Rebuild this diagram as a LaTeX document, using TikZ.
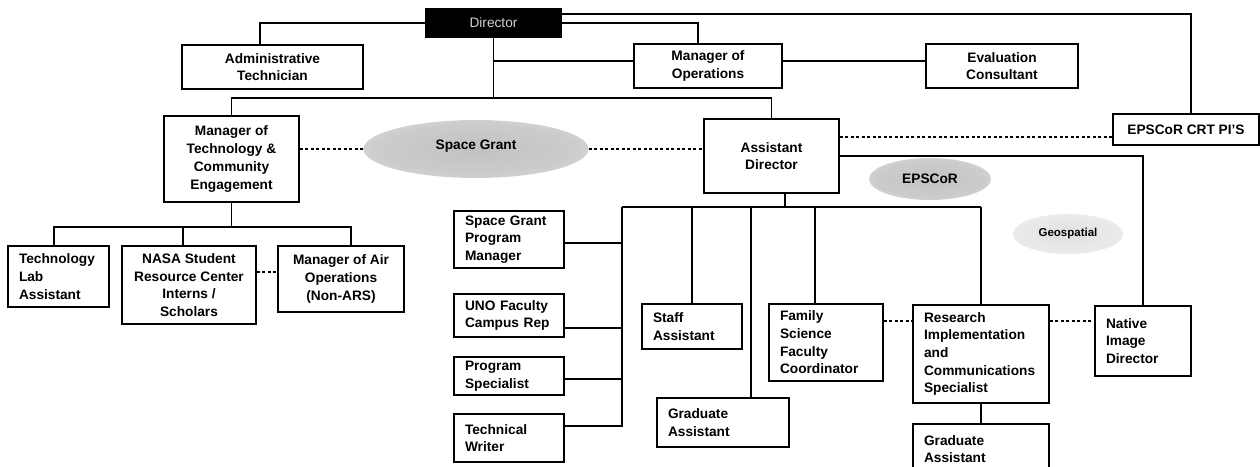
\documentclass[tikz,border=0pt]{standalone}
\usepackage{fontspec}
\setmainfont{Liberation Sans}
\usetikzlibrary{shapes.geometric}
\pgfdeclareradialshading{cloudfade}{\pgfpoint{0bp}{0bp}}{color(0bp)=(black!24); color(22bp)=(black!20); color(38bp)=(black!10); color(50bp)=(white)}
\pgfdeclareradialshading{geofade}{\pgfpoint{0bp}{0bp}}{color(0bp)=(black!12); color(30bp)=(black!7); color(50bp)=(white)}
\begin{document}
\begin{tikzpicture}[x=1pt,y=-1pt,
  every node/.style={font=\fontsize{13.7}{17.7}\selectfont\bfseries},
  cbox/.style={draw, line width=1.4pt, fill=white, align=center, inner sep=2pt},
  lbox/.style={draw, line width=1.4pt, fill=white, align=left, inner xsep=11pt, inner ysep=1pt},
  conn/.style={line width=1.3pt},
  dline/.style={line width=1.3pt, dash pattern=on 3pt off 2.5pt},
  sgcl/.style={ellipse, draw=none, shade, shading=cloudfade, inner sep=0pt}
]
\useasboundingbox (0,0) rectangle (1260,466);
\clip (0,0) rectangle (1260,466);

% clouds
\node[sgcl, minimum width=225pt, minimum height=58pt] (sg) at (476,149) {\raisebox{9pt}{Space Grant}};
\node[sgcl, minimum width=122pt, minimum height=42pt] (ep) at (930,179) {EPSCoR};
\node[sgcl, shading=geofade, minimum width=110pt, minimum height=40pt, font=\fontsize{11.5}{13}\selectfont\bfseries] (geo) at (1068,234) {Geospatial};

% boxes
\node[cbox, fill=black, text=black!18, font=\fontsize{13.7}{16}\selectfont, minimum width=135pt, minimum height=28pt] (dir) at (493.5,23) {Director};
\node[cbox, minimum width=181pt, minimum height=44pt] (admin) at (272.5,67) {Administrative\\Technician};
\node[cbox, minimum width=148pt, minimum height=44pt] (mops) at (708,66) {Manager of\\Operations};
\node[cbox, minimum width=152pt, minimum height=44pt] (eval) at (1002,66) {Evaluation\\Consultant};
\node[cbox, minimum width=146pt, minimum height=31pt] (crt) at (1186,129.5) {EPSCoR CRT PI'S};
\node[cbox, minimum width=135pt, minimum height=86pt] (mtech) at (231.5,159) {Manager of\\Technology \&\\Community\\Engagement};
\node[cbox, minimum width=135pt, minimum height=74pt] (asst) at (771.5,156) {Assistant\\Director};
\node[lbox, text width=79pt, minimum height=61pt] (tlab) at (58.5,276.5) {Technology\\Lab\\Assistant};
\node[cbox, minimum width=134pt, minimum height=78pt] (nasa) at (189,285) {NASA Student\\Resource Center\\Interns /\\Scholars};
\node[cbox, minimum width=126pt, minimum height=66pt] (mair) at (341,279) {Manager of Air\\Operations\\(Non-ARS)};
\node[lbox, text width=88pt, minimum height=57pt] (sgpm) at (509,239.5) {Space Grant\\Program\\Manager};
\node[lbox, text width=88pt, minimum height=43pt] (uno) at (509,315.5) {UNO Faculty\\Campus Rep};
\node[lbox, text width=88pt, minimum height=38pt] (pspec) at (509,376) {Program\\Specialist};
\node[lbox, text width=88pt, minimum height=48pt] (twr) at (509,438) {Technical\\Writer};
\node[lbox, text width=78pt, minimum height=45pt] (staff) at (692,326.5) {Staff\\Assistant};
\node[lbox, text width=110pt, minimum height=49pt] (grad1) at (723,422.5) {Graduate\\Assistant};
\node[lbox, text width=92pt, minimum height=77pt] (family) at (826,342.5) {Family\\Science\\Faculty\\Coordinator};
\node[lbox, text width=114pt, minimum height=98pt] (research) at (981,354) {Research\\Implementation\\and\\Communications\\Specialist};
\node[lbox, text width=74pt, minimum height=70pt] (native) at (1143,341) {Native\\Image\\Director};
\node[lbox, text width=114pt, minimum height=50pt] (grad2) at (981,449) {Graduate\\Assistant};

% top connectors
\draw[conn] (dir.west) -| ([xshift=-12.5pt]admin.north);
\draw[conn] ([yshift=9pt]dir.east) -| ([xshift=5pt]crt.north);
\draw[conn] (dir.east) -| ([xshift=-10pt]mops.north);
\coordinate (h1) at (493.5,98);
\draw[conn] (dir.south) -- (h1);
\coordinate (mopsL) at ([yshift=5pt]mops.west);
\draw[conn] (dir.south |- mopsL) -- (mopsL);
\coordinate (mopsR) at ([yshift=5pt]mops.east);
\draw[conn] (mopsR) -- (mopsR -| eval.west);
\draw[conn] (mtech.north) |- (h1) -| (asst.north);

% dashed links
\draw[dline] (mtech.east |- sg.west) -- (sg.west);
\draw[dline] (sg.east) -- (asst.west |- sg.east);
\coordinate (crtL) at ([yshift=-7.5pt]crt.west);
\draw[dline] (asst.east |- crtL) -- (crtL);

% assistant director branches
\draw[conn] (asst.east) -| (native.north);
\coordinate (asstB) at ([xshift=13.5pt]asst.south);
\coordinate (hL) at (622,207);
\coordinate (hR) at (981,207);
\draw[conn] (asstB) -- (asstB |- hL);
\draw[conn] (hL) -- (hR);
\coordinate (sgpmR) at ([yshift=-3.5pt]sgpm.east);
\coordinate (unoR) at ([yshift=-12.5pt]uno.east);
\coordinate (pspecR) at ([yshift=-3pt]pspec.east);
\coordinate (twrR) at ([yshift=12pt]twr.east);
\draw[conn] (hL) -- (hL |- twrR) -- (twrR);
\draw[conn] (sgpmR) -- (hL |- sgpmR);
\draw[conn] (unoR) -- (hL |- unoR);
\draw[conn] (pspecR) -- (hL |- pspecR);
\draw[conn] (staff.north |- hL) -- (staff.north);
\coordinate (g1T) at ([xshift=28pt]grad1.north);
\draw[conn] (g1T |- hL) -- (g1T);
\coordinate (famT) at ([xshift=-11pt]family.north);
\draw[conn] (famT |- hL) -- (famT);
\draw[conn] (hR) -- (research.north);
\coordinate (famR) at ([yshift=21.5pt]family.east);
\draw[dline] (famR) -- (research.west |- famR);
\draw[dline] (research.east |- famR) -- (native.west |- famR);
\draw[conn] (research.south) -- (grad2.north);

% technology & community engagement branches
\coordinate (hT) at (231.5,227);
\draw[conn] (mtech.south) -- (hT);
\coordinate (tlabT) at ([xshift=-4.5pt]tlab.north);
\coordinate (nasaT) at ([xshift=-6pt]nasa.north);
\coordinate (mairT) at ([xshift=10pt]mair.north);
\draw[conn] (tlabT) |- (hT) -| (mairT);
\draw[conn] (nasaT |- hT) -- (nasaT);
\coordinate (nasaR) at ([yshift=13pt]nasa.east);
\draw[dline] (nasaR) -- (mair.west |- nasaR);
\end{tikzpicture}
\end{document}
